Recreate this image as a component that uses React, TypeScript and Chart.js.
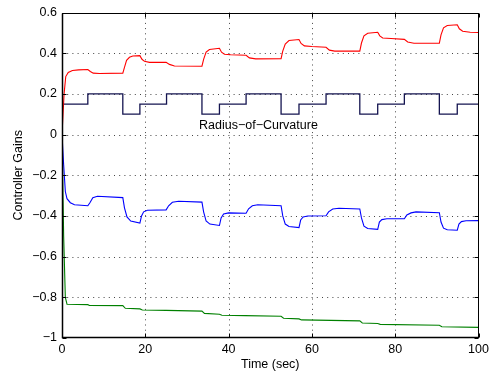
import React, { useEffect, useRef } from "react";
import { Chart, registerables } from "chart.js";

Chart.register(...registerables);

// ---- data ----
const redT = [0, 0.5, 0.9, 1.5, 2.5, 4, 6.2, 6.8, 7.5, 9, 14.6, 15.0, 15.5, 16.2, 17, 18.7, 19.2, 19.8, 21, 25, 25.8, 27, 33.6, 34.0, 34.6, 35.4, 37.8, 38.3, 39, 40.5, 44.2, 45, 46.5, 52.6, 53.0, 53.6, 54.5, 56.9, 57.4, 58.2, 60, 63.4, 64.2, 65.5, 71.5, 71.9, 72.5, 73.4, 75.8, 76.3, 77, 79, 82.2, 83, 84.5, 90.6, 91.0, 91.6, 92.5, 94.9, 95.4, 96.2, 98, 100];
const redV = [0, 0.2, 0.285, 0.305, 0.315, 0.318, 0.32, 0.31, 0.302, 0.3, 0.302, 0.33, 0.365, 0.38, 0.386, 0.388, 0.37, 0.36, 0.355, 0.355, 0.345, 0.337, 0.336, 0.37, 0.405, 0.418, 0.424, 0.405, 0.395, 0.392, 0.39, 0.377, 0.372, 0.373, 0.41, 0.445, 0.462, 0.467, 0.448, 0.436, 0.433, 0.429, 0.415, 0.41, 0.41, 0.45, 0.485, 0.498, 0.503, 0.485, 0.475, 0.472, 0.468, 0.455, 0.449, 0.449, 0.49, 0.525, 0.536, 0.54, 0.52, 0.508, 0.503, 0.502];

const blueT = [0, 0.4, 0.8, 1.2, 2, 3, 6.2, 6.7, 7.4, 8.5, 14.6, 15.0, 15.6, 16.5, 18.7, 19.1, 19.6, 20.5, 25.0, 25.6, 26.5, 28, 33.6, 34.0, 34.6, 35.5, 37.8, 38.2, 38.8, 40, 44.2, 44.8, 45.7, 47, 52.6, 53.0, 53.6, 54.5, 56.9, 57.3, 57.9, 59, 63.4, 64.0, 65, 66.5, 71.5, 71.9, 72.5, 73.4, 75.8, 76.2, 76.8, 78, 82.2, 82.8, 83.8, 85, 90.6, 91.0, 91.6, 92.5, 94.9, 95.3, 95.9, 97, 100];
const blueV = [0, -0.15, -0.28, -0.315, -0.335, -0.345, -0.35, -0.335, -0.31, -0.303, -0.31, -0.36, -0.405, -0.425, -0.435, -0.4, -0.38, -0.372, -0.37, -0.35, -0.333, -0.328, -0.332, -0.38, -0.425, -0.44, -0.447, -0.41, -0.39, -0.385, -0.387, -0.365, -0.35, -0.345, -0.35, -0.4, -0.44, -0.452, -0.457, -0.42, -0.405, -0.4, -0.399, -0.38, -0.366, -0.362, -0.366, -0.41, -0.45, -0.462, -0.466, -0.43, -0.418, -0.414, -0.414, -0.395, -0.385, -0.38, -0.384, -0.43, -0.46, -0.468, -0.47, -0.44, -0.428, -0.424, -0.423];

const greenT = [0, 0.4, 0.8, 1.2, 6.2, 6.6, 14.6, 15.2, 18.7, 19.3, 25, 33.6, 34.2, 37.8, 38.4, 44, 52.6, 53.2, 56.9, 57.5, 71.5, 72.1, 75.8, 76.4, 90.6, 91.2, 100];
const greenV = [0, -0.5, -0.8, -0.834, -0.836, -0.84, -0.841, -0.854, -0.857, -0.862, -0.864, -0.868, -0.879, -0.883, -0.888, -0.89, -0.893, -0.903, -0.906, -0.911, -0.916, -0.926, -0.929, -0.933, -0.937, -0.945, -0.948];

const stepT = [0, 6.2, 14.6, 18.7, 25.1, 33.6, 37.8, 44.2, 52.6, 56.9, 63.4, 71.5, 75.8, 82.2, 90.6, 94.9, 100];
const stepV = [0.15, 0.2, 0.1, 0.15, 0.2, 0.1, 0.15, 0.2, 0.1, 0.15, 0.2, 0.1, 0.15, 0.2, 0.1, 0.15, 0.15];

const xTicks = [0, 20, 40, 60, 80, 100];
const yTicks = [-1, -0.8, -0.6, -0.4, -0.2, 0, 0.2, 0.4, 0.6];

const xTitle = "Time (sec)";
const yTitle = "Controller Gains";
const annotationText = "Radius\u2212of\u2212Curvature";
const annotationX = 32.9;
const annotationY = 0.044;

const FONT = "'Liberation Sans', Arial, Helvetica, sans-serif";

function pts(t: number[], v: number[]) {
  return t.map((x, i) => ({ x, y: v[i] }));
}

function fmt(v: number) {
  const r = Math.round(v * 10) / 10;
  const s = String(Math.abs(r));
  return r < 0 ? "\u2212" + s : s;
}

export default function App() {
  const ref = useRef<HTMLCanvasElement>(null);

  useEffect(() => {
    document.body.style.margin = "0";
    const canvas = ref.current;
    if (!canvas) return;

    const framePlugin = {
      id: "frame",
      beforeDatasetsDraw(chart: any) {
        const { ctx, chartArea: a, scales } = chart;
        ctx.save();
        ctx.strokeStyle = "#444";
        ctx.lineWidth = 1;
        ctx.setLineDash([1, 4.2]);
        ctx.beginPath();
        xTicks.forEach((v) => {
          const px = Math.round(scales.x.getPixelForValue(v)) + 0.5;
          if (v === xTicks[0] || v === xTicks[xTicks.length - 1]) return;
          ctx.moveTo(px, a.top);
          ctx.lineTo(px, a.bottom);
        });
        yTicks.forEach((v) => {
          const py = Math.round(scales.y.getPixelForValue(v)) + 0.5;
          if (v === yTicks[0] || v === yTicks[yTicks.length - 1]) return;
          ctx.moveTo(a.left, py);
          ctx.lineTo(a.right, py);
        });
        ctx.stroke();
        ctx.restore();
      },
      afterDatasetsDraw(chart: any) {
        const { ctx, scales } = chart;
        ctx.save();
        ctx.font = `12.5px ${FONT}`;
        ctx.fillStyle = "#000";
        ctx.textAlign = "left";
        ctx.textBaseline = "middle";
        ctx.fillText(
          annotationText,
          scales.x.getPixelForValue(annotationX),
          scales.y.getPixelForValue(annotationY)
        );
        ctx.restore();
      },
      afterDraw(chart: any) {
        const { ctx, chartArea: a, scales } = chart;
        ctx.save();
        ctx.strokeStyle = "#000";
        ctx.lineWidth = 1;
        const L = Math.round(a.left) + 0.5;
        const R = Math.round(a.right) - 0.5;
        const T = Math.round(a.top) + 0.5;
        const B = Math.round(a.bottom) - 0.5;
        ctx.strokeRect(L, T, R - L, B - T);
        const len = 4;
        ctx.beginPath();
        xTicks.forEach((v) => {
          const px = Math.round(scales.x.getPixelForValue(v)) + 0.5;
          ctx.moveTo(px, B);
          ctx.lineTo(px, B - len);
          ctx.moveTo(px, T);
          ctx.lineTo(px, T + len);
        });
        yTicks.forEach((v) => {
          const py = Math.round(scales.y.getPixelForValue(v)) + 0.5;
          ctx.moveTo(L, py);
          ctx.lineTo(L + len, py);
          ctx.moveTo(R, py);
          ctx.lineTo(R - len, py);
        });
        ctx.stroke();
        ctx.lineWidth = 1.5;
        ctx.beginPath();
        ctx.moveTo(L, T);
        ctx.lineTo(L, B);
        ctx.lineTo(R, B);
        ctx.stroke();
        ctx.restore();
      },
    };

    const line = (data: any, color: string, extra: any = {}) => ({
      data,
      borderColor: color,
      backgroundColor: color,
      borderWidth: 1.1,
      pointRadius: 0,
      tension: 0,
      fill: false,
      ...extra,
    });

    const chart = new Chart(canvas, {
      type: "line",
      data: {
        datasets: [
          line(pts(greenT, greenV), "#008000"),
          line(pts(blueT, blueV), "#0000ff"),
          line(pts(redT, redV), "#ff0000"),
          line(pts(stepT, stepV), "#141450", { stepped: "before", borderWidth: 1.3 }),
        ],
      },
      options: {
        animation: false,
        responsive: false,
        devicePixelRatio: 1,
        parsing: false,
        layout: { padding: { left: 0, top: 9.5, right: 14.5, bottom: 0 } },
        plugins: {
          legend: { display: false },
          tooltip: { enabled: false },
        },
        scales: {
          x: {
            type: "linear",
            min: 0,
            max: 100,
            afterBuildTicks: (s: any) => {
              s.ticks = xTicks.map((v) => ({ value: v }));
            },
            afterFit: (s: any) => {
              s.height = 34;
            },
            ticks: {
              color: "#000",
              font: { family: FONT, size: 12.5 },
              padding: 4,
              maxRotation: 0,
              callback: (v: any) => fmt(Number(v)),
            },
            grid: { display: false, drawTicks: false },
            border: { display: false },
            title: {
              display: true,
              text: xTitle,
              color: "#000",
              font: { family: FONT, size: 12.5 },
              padding: { top: 0, bottom: 0 },
            },
          },
          y: {
            type: "linear",
            min: -1,
            max: 0.6,
            afterBuildTicks: (s: any) => {
              s.ticks = yTicks.map((v) => ({ value: v }));
            },
            afterFit: (s: any) => {
              s.width = 62;
            },
            ticks: {
              color: "#000",
              font: { family: FONT, size: 12.5 },
              padding: 5,
              callback: (v: any) => fmt(Number(v)),
            },
            grid: { display: false, drawTicks: false },
            border: { display: false },
            title: {
              display: true,
              text: yTitle,
              color: "#000",
              font: { family: FONT, size: 12.5 },
              padding: { top: 11, bottom: 0 },
            },
          },
        },
      } as any,
      plugins: [framePlugin],
    });

    return () => chart.destroy();
  }, []);

  return (
    <div style={{ width: 493, height: 372 }}>
      <canvas ref={ref} width={493} height={372} style={{ display: "block" }} />
    </div>
  );
}
